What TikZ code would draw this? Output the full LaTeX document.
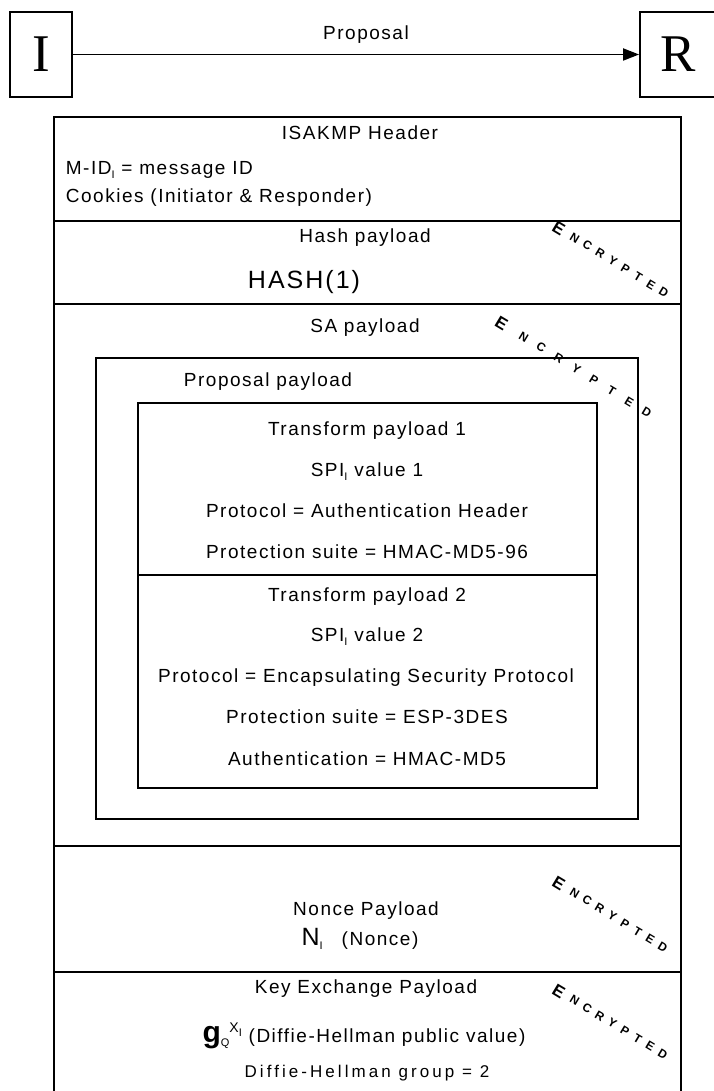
\documentclass[tikz,border=0pt]{standalone}
\usepackage{fontspec}
\setmainfont{Liberation Sans}[LetterSpace=8]
\newfontfamily\partyfont{Liberation Serif}
\newfontfamily\stampfont{Liberation Sans}
\usetikzlibrary{arrows.meta}

\newcommand{\lowsub}[1]{\raisebox{-4pt}{\fontsize{11}{11}\selectfont #1}}
% ENCRYPTED stamp: name, start x, start y, step x, step y
\newcommand{\encstamp}[5]{%
  \node[encbig] (#1-0) at ({#2-0.25*#4},{#3-0.25*#5}) {E};
  \foreach \ch [count=\k] in {N,C,R,Y,P,T,E,D}
    \node[enclet] (#1-\k) at ({#2+\k*#4},{#3+\k*#5}) {\ch};
}

\begin{document}
\begin{tikzpicture}[x=1pt,y=-1pt,line width=1.8pt,
  txt/.style = {inner sep=0pt,text height=14pt,text depth=4pt,font=\fontsize{19}{21}\selectfont},
  big/.style = {inner sep=0pt,font=\fontsize{25}{27}\selectfont},
  party/.style = {draw,minimum height=85pt,inner sep=0pt,font=\partyfont\fontsize{53}{53}\selectfont},
  encbig/.style = {inner sep=0pt,rotate=-31,font=\stampfont\bfseries\fontsize{17}{17}\selectfont},
  enclet/.style = {inner sep=0pt,rotate=-31,font=\stampfont\bfseries\fontsize{12}{12}\selectfont}]
\useasboundingbox (0,0) rectangle (713,1091);

% initiator and responder
\node[party,minimum width=62pt] (ini) at (41,54.5) {I};
\node[party,minimum width=76pt] (res) at (678,54.5) {R};
\draw[-{Triangle[length=16pt,width=12pt]}] (ini) -- (res);
\node[txt] (prop) at (366,35) {Proposal};

% message frame
\draw (54,117) rectangle (681,1100);
\foreach \yy in {221,304,846,972}
  \draw (54,\yy) -- (681,\yy);
\draw (96,358) rectangle (638,819);     % proposal payload
\draw (138,403) rectangle (597,788);    % transform payloads
\draw (138,575) -- (597,575);

% ISAKMP header
\node[txt] (hdr) at (360,135) {ISAKMP Header};
\node[txt,anchor=west] (mid) at (65,170) {M-ID\lowsub{I} = message ID};
\node[txt,anchor=west] (cook) at (65,198) {Cookies (Initiator \& Responder)};

% hash payload
\node[txt] (hashp) at (365,237) {Hash payload};
\node[big] (hash) at (304,282) {HASH(1)};
\encstamp{encH}{562}{230}{12.7}{7.8}

% SA payload
\node[txt] (sap) at (365,327) {SA payload};
\encstamp{encSA}{506}{326}{17.6}{10.8}
\node[txt] (propp) at (268,381) {Proposal payload};
\node[txt] (tr1) at (367,430) {Transform payload 1};
\node[txt] (spi1) at (367,471) {SPI\lowsub{I} value 1};
\node[txt] (ah) at (367,512) {Protocol = Authentication Header};
\node[txt] (suite1) at (367,553) {Protection suite = HMAC-MD5-96};
\node[txt] (tr2) at (367,596) {Transform payload 2};
\node[txt] (spi2) at (367,636) {SPI\lowsub{I} value 2};
\node[txt] (esp) at (366,677) {Protocol = Encapsulating Security Protocol};
\node[txt] (suite2) at (367,718) {Protection suite = ESP-3DES};
\node[txt] (auth) at (367,760) {Authentication = HMAC-MD5};

% nonce payload
\node[txt] (noncep) at (366,910) {Nonce Payload};
\node[txt,text height=18pt] (nonce) at (360,938) {{\fontsize{25}{27}\selectfont N}\lowsub{I}\quad(Nonce)};
\encstamp{encN}{562}{885}{12.6}{7.75}

% key exchange payload
\node[txt] (kep) at (366,988) {Key Exchange Payload};
\node[txt,text height=22pt] (gx) at (364,1033) {{\bfseries\fontsize{30}{30}\selectfont g}\lowsub{Q}\raisebox{10pt}{\fontsize{14}{14}\selectfont X\lowsub{I}}\ (Diffie-Hellman public value)};
\node[txt,font=\fontsize{17}{19}\selectfont\addfontfeature{LetterSpace=18}] (dhg) at (367,1072) {Diffie-Hellman group = 2};
\encstamp{encK}{562}{993}{12.6}{7.6}
\end{tikzpicture}
\end{document}
